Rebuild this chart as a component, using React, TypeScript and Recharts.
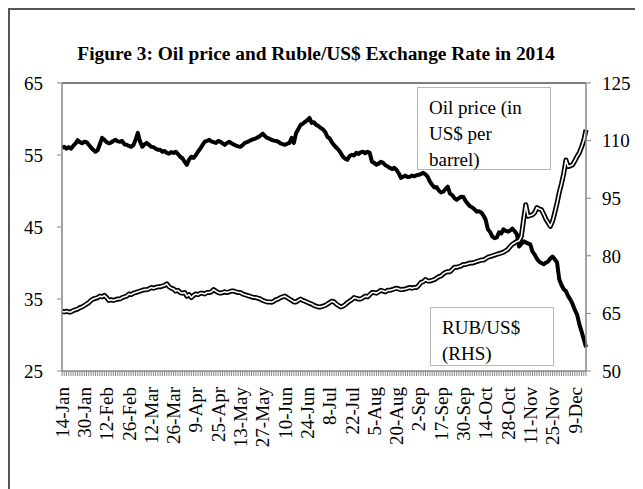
import React from 'react';
import { LineChart, Line, XAxis, YAxis, ReferenceLine } from 'recharts';

const SERIF = "'Liberation Serif', 'Times New Roman', serif";
const AXIS_GREY = '#868686';

// one label every 10 trading days, starting at the first point
const tickLabels = [
  '14-Jan', '30-Jan', '12-Feb', '26-Feb', '12-Mar', '26-Mar', '9-Apr', '25-Apr',
  '13-May', '27-May', '10-Jun', '24-Jun', '8-Jul', '22-Jul', '5-Aug', '20-Aug',
  '2-Sep', '17-Sep', '30-Sep', '14-Oct', '28-Oct', '11-Nov', '25-Nov', '9-Dec',
];

// oil price, US$ per barrel (right axis)
const oilPrice = [
  108.1, 108.4, 107.9, 108.3, 107.9, 108.6, 109.2, 110.1, 109.6, 109.3,
  109.7, 109.6, 108.9, 108.2, 107.6, 107.1, 107.5, 109.1, 110.7, 110.2,
  109.6, 109.3, 109.5, 109.9, 110.2, 109.8, 109.7, 109.9, 109.0, 108.9,
  108.6, 108.4, 108.8, 110.2, 112.0, 109.8, 108.4, 109.0, 109.4, 108.9,
  108.4, 108.3, 107.9, 107.6, 107.6, 107.1, 107.3, 106.8, 106.6, 107.0,
  106.8, 107.1, 106.5, 105.8, 105.4, 104.5, 103.7, 105.1, 105.8, 105.5,
  106.2, 107.1, 107.9, 108.8, 109.7, 109.9, 110.2, 109.8, 109.6, 109.4,
  109.9, 109.7, 109.3, 108.9, 109.4, 109.7, 109.3, 109.0, 108.7, 108.5,
  108.4, 108.8, 109.4, 109.6, 109.9, 110.2, 110.4, 110.6, 110.9, 111.3,
  111.8, 111.2, 110.7, 110.5, 110.2, 110.0, 109.9, 109.7, 109.3, 109.1,
  108.9, 109.2, 109.4, 110.7, 109.4, 112.0, 113.0, 114.1, 114.4, 114.9,
  115.3, 115.9, 114.6, 114.8, 114.1, 113.8, 113.3, 112.9, 112.3, 111.0,
  110.6, 109.6, 108.8, 108.2, 107.6, 106.8, 105.8, 105.3, 105.0, 106.0,
  106.3, 106.1, 106.8, 106.5, 107.0, 107.1, 106.7, 107.1, 106.8, 104.5,
  104.2, 103.7, 104.0, 104.5, 104.2, 103.6, 103.3, 102.9, 102.6, 102.9,
  102.4, 101.5, 100.3, 100.6, 100.9, 100.5, 100.6, 100.9, 100.7, 101.0,
  101.1, 101.3, 101.6, 101.2, 100.6, 99.3, 98.5, 97.8, 97.9, 97.0,
  96.5, 96.7, 97.4, 98.0, 96.2, 95.8, 95.0, 94.6, 95.0, 95.4,
  95.3, 94.3, 93.5, 92.9, 92.6, 92.1, 91.5, 91.6, 91.3, 90.5,
  89.4, 86.9, 86.2, 85.0, 84.6, 84.8, 86.1, 85.8, 86.9, 86.5,
  86.3, 86.6, 87.1, 86.4, 85.6, 82.4, 83.1, 83.8, 83.5, 83.2,
  83.0, 81.1, 80.3, 79.2, 78.5, 78.1, 77.8, 78.2, 78.5, 79.3,
  79.8, 79.1, 78.3, 73.9, 72.4, 71.3, 70.8, 69.5, 68.6, 67.4,
  65.9, 64.7, 62.2, 60.3, 58.3, 56.2,
];

// roubles per US$ (left axis)
const rubUsd = [
  33.3, 33.2, 33.3, 33.2, 33.2, 33.4, 33.5, 33.6, 33.8, 33.9,
  34.1, 34.3, 34.5, 34.8, 35.0, 35.1, 35.2, 35.4, 35.3, 35.5,
  35.2, 34.8, 34.9, 34.8, 34.9, 35.0, 35.0, 35.2, 35.3, 35.4,
  35.7, 35.6, 35.8, 35.9, 36.0, 36.1, 36.2, 36.3, 36.3, 36.4,
  36.6, 36.5, 36.6, 36.7, 36.7, 36.8, 36.9, 37.1, 36.7, 36.5,
  36.4, 36.1, 36.2, 35.9, 35.8, 35.9, 35.4, 35.6, 35.2, 35.5,
  35.7, 35.6, 35.8, 35.8, 35.7, 35.9, 35.9, 36.0, 36.3, 36.1,
  35.9, 35.8, 35.9, 36.0, 35.9, 36.0, 36.1, 36.1, 36.0, 35.9,
  35.9, 35.7, 35.6, 35.5, 35.4, 35.3, 35.2, 35.2, 35.1, 35.0,
  34.8, 34.7, 34.6, 34.6, 34.55, 34.7, 34.9, 35.0, 35.2, 35.3,
  35.4, 35.2, 35.0, 34.8, 34.6, 34.6, 34.8, 35.0, 34.8, 34.7,
  34.55, 34.4, 34.3, 34.1, 34.0, 33.9, 33.9, 34.0, 34.1, 34.3,
  34.5, 34.7, 34.6, 34.3, 34.1, 33.9, 34.0, 34.2, 34.5, 34.7,
  34.9, 35.2, 35.1, 35.0, 35.0, 35.2, 35.4, 35.3, 35.6, 35.9,
  35.9, 35.8, 36.0, 36.2, 36.1, 36.0, 36.2, 36.2, 36.3, 36.4,
  36.5, 36.4, 36.3, 36.35, 36.4, 36.5, 36.6, 36.5, 36.6, 36.6,
  36.9, 37.3, 37.4, 37.7, 37.5, 37.5, 37.6, 37.7, 37.9, 38.1,
  38.2, 38.5, 38.7, 38.8, 38.8, 39.1, 39.4, 39.4, 39.5, 39.6,
  39.8, 39.8, 39.9, 40.0, 40.0, 40.1, 40.2, 40.3, 40.4, 40.4,
  40.6, 40.8, 40.9, 41.0, 41.1, 41.2, 41.3, 41.4, 41.5, 41.7,
  41.9, 42.3, 42.6, 42.8, 43.0, 43.1, 43.7, 46.0, 48.1, 46.5,
  46.6, 46.7, 47.0, 47.7, 47.5, 47.4, 46.8, 46.1, 45.6, 45.1,
  45.8, 47.0, 48.3, 49.8, 51.0, 52.4, 54.3, 53.4, 53.5, 53.65,
  54.2, 54.8, 55.3, 56.1, 57.0, 58.5,
];

const leftTicks = [25, 35, 45, 55, 65];
const rightTicks = [50, 65, 80, 95, 110, 125];

const data = rubUsd.map((rub, i) => ({ idx: i, rub, oil: oilPrice[i] }));

function DateTick(props: any) {
  const { x, y, payload } = props;
  const i = payload.value as number;
  if (i % 10 !== 0) return <g />;
  const label = tickLabels[i / 10];
  if (!label) return <g />;
  return (
    <text
      transform={`translate(${x},${y}) rotate(-90)`}
      textAnchor="end"
      dy="0.35em"
      fontSize={19}
      fontFamily={SERIF}
      fill="#000"
    >
      {label}
    </text>
  );
}

const boxStyle: React.CSSProperties = {
  position: 'absolute',
  border: '1.5px solid #b8b8b8',
  background: '#fff',
  boxSizing: 'border-box',
  fontFamily: SERIF,
  fontSize: 19,
  lineHeight: '26px',
  color: '#000',
  paddingLeft: 11,
  paddingTop: 7,
};

export default function App() {
  const tickFont = { fill: '#000', fontSize: 19, fontFamily: SERIF };
  return (
    <div
      style={{
        position: 'relative',
        width: 634,
        height: 490,
        boxSizing: 'border-box',
        borderLeft: '2px solid #555',
        borderTop: '2px solid #555',
        borderRight: '2px solid #999',
        background: '#fff',
      }}
    >
      <div
        style={{
          position: 'absolute',
          left: 0,
          top: 33,
          width: 612,
          textAlign: 'center',
          fontFamily: SERIF,
          fontWeight: 'bold',
          fontSize: 19.4,
          lineHeight: '22px',
          color: '#000',
        }}
      >
        Figure 3: Oil price and Ruble/US$ Exchange Rate in 2014
      </div>

      <LineChart
        width={630}
        height={478}
        data={data}
        margin={{ top: 73, right: 0, bottom: 57, left: 0 }}
      >
        <XAxis
          dataKey="idx"
          type="category"
          interval={0}
          height={60}
          tickSize={5}
          tickMargin={11}
          tick={(p: any) => <DateTick {...p} />}
          axisLine={{ stroke: AXIS_GREY, strokeWidth: 1.5 }}
          tickLine={{ stroke: AXIS_GREY }}
        />
        <YAxis
          yAxisId="left"
          domain={[25, 65]}
          ticks={leftTicks}
          width={52}
          tickSize={5}
          tickMargin={14}
          tick={tickFont}
          axisLine={{ stroke: AXIS_GREY, strokeWidth: 1.5 }}
          tickLine={{ stroke: AXIS_GREY }}
        />
        <YAxis
          yAxisId="right"
          orientation="right"
          domain={[50, 125]}
          ticks={rightTicks}
          width={54}
          tickSize={5}
          tickMargin={11}
          tick={tickFont}
          axisLine={{ stroke: AXIS_GREY, strokeWidth: 1.5 }}
          tickLine={{ stroke: AXIS_GREY }}
        />
        <ReferenceLine yAxisId="left" y={65} stroke="#000" strokeWidth={1.2} />
        <Line
          yAxisId="right"
          type="linear"
          dataKey="oil"
          stroke="#000"
          strokeWidth={4}
          strokeLinejoin="round"
          dot={false}
          activeDot={false}
          isAnimationActive={false}
        />
        <Line
          yAxisId="left"
          type="linear"
          dataKey="rub"
          stroke="#000"
          strokeWidth={5}
          strokeLinejoin="round"
          dot={false}
          activeDot={false}
          isAnimationActive={false}
        />
        <Line
          yAxisId="left"
          type="linear"
          dataKey="rub"
          stroke="#fff"
          strokeWidth={1.6}
          strokeLinejoin="round"
          dot={false}
          activeDot={false}
          isAnimationActive={false}
        />
      </LineChart>

      <div style={{ ...boxStyle, left: 407, top: 77, width: 134, height: 83 }}>
        Oil price (in
        <br />
        US$ per
        <br />
        barrel)
      </div>
      <div style={{ ...boxStyle, left: 420, top: 297, width: 124, height: 59 }}>
        RUB/US$
        <br />
        (RHS)
      </div>
    </div>
  );
}
